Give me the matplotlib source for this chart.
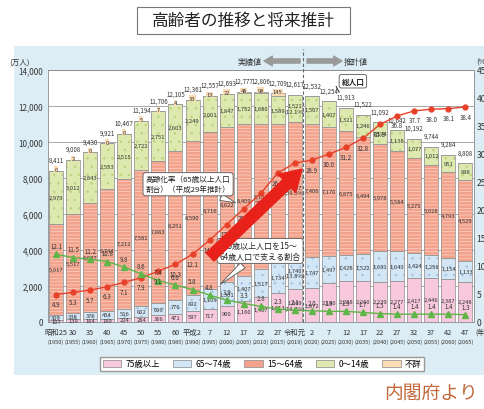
import matplotlib
matplotlib.use("Agg")
import matplotlib.pyplot as plt
from matplotlib.patches import Rectangle, Patch

plt.rcParams["font.family"] = ["Noto Sans CJK JP", "DejaVu Sans"]
plt.rcParams["hatch.linewidth"] = 0.5

years = [1950, 1955, 1960, 1965, 1970, 1975, 1980, 1985, 1990, 1995, 2000, 2005, 2010,
         2015, 2019, 2020, 2025, 2030, 2035, 2040, 2045, 2050, 2055, 2060, 2065]
eras = ["昭和25", "30", "35", "40", "45", "50", "55", "60", "平成2", "7", "12", "17", "22",
        "27", "令和元", "2", "7", "12", "17", "22", "27", "32", "37", "42", "47"]
total = [8411, 9008, 9430, 9921, 10467, 11194, 11706, 12105, 12361, 12557, 12693, 12777, 12806,
         12709, 12617, 12532, 12254, 11913, 11522, 11092, 10642, 10192, 9744, 9284, 8808]
age_0_14 = [2979, 3012, 2843, 2553, 2515, 2722, 2751, 2603, 2249, 2001, 1847, 1752, 1680,
            1589, 1521, 1507, 1407, 1321, 1246, 1194, 1138, 1077, 1012, 951, 898]
age_15_64 = [5017, 5517, 6047, 6744, 7212, 7581, 7883, 8251, 8590, 8716, 8622, 8409, 8103,
             7629, 7507, 7406, 7170, 6875, 6494, 5978, 5584, 5275, 5028, 4793, 4529]
age_65_74 = [309, 338, 376, 434, 516, 602, 699, 776, 892, 1109, 1301, 1407, 1517,
             1734, 1740, 1747, 1497, 1428, 1522, 1681, 1643, 1424, 1258, 1154, 1133]
age_75_over = [107, 139, 164, 189, 224, 284, 366, 471, 597, 717, 900, 1160, 1407,
               1613, 1849, 1872, 2180, 2288, 2260, 2239, 2277, 2417, 2446, 2387, 2248]
unknown = [0, 2, 0, 0, 0, 5, 7, 4, 33, 13, 22, 48, 98, 145] + [None] * 11
aging_rate = [4.9, 5.3, 5.7, 6.3, 7.1, 7.9, 9.1, 10.3, 12.1, 14.6, 17.4, 20.2, 23.0,
              26.6, 28.4, 28.9, 30.0, 31.2, 32.8, 35.3, 36.8, 37.7, 38.0, 38.1, 38.4]
support_ratio = [12.1, 11.5, 11.2, 10.8, 9.8, 8.6, 7.4, 6.6, 5.8, 4.8, 3.9, 3.3, 2.8,
                 2.3, 2.1, 2.0, 1.9, 1.9, 1.7, 1.5, 1.4, 1.4, 1.4, 1.4, 1.3]
shares_2019 = ["(12.1%)", "(59.5%)", "(13.8%)", "(14.7%)"]
legend_labels = ["75歳以上", "65～74歳", "15～64歳", "0～14歳", "不詳"]

W, H = 484, 410
PINK, BLUE, SALMON, GREEN, PEACH = "#f8c9dc", "#d3e6f5", "#f3a28c", "#dde9ae", "#fcdcb5"
EDGE = "#9a9a9a"
RED, LGREEN = "#e8412a", "#5fb548"
BAR_W = 0.82
IDX_2019 = years.index(2019)


def fx(x):
    return x / W


def fy(y):
    return 1 - y / H


fig = plt.figure(figsize=(W / 100, H / 100), dpi=100)

# light blue panel + title box
fig.add_artist(Rectangle((fx(14), fy(376)), fx(484 - 14), (376 - 47) / H,
                         transform=fig.transFigure, facecolor="#dcedf5", edgecolor="none", zorder=0))
fig.add_artist(Rectangle((fx(137), fy(35)), fx(213), 27 / H, transform=fig.transFigure,
                         facecolor="white", edgecolor="#777777", linewidth=0.8, zorder=1))
fig.text(fx(243), fy(21.5), "高齢者の推移と将来推計", ha="center", va="center", fontsize=12, color="#222222")

ax = fig.add_axes([47.5 / W, (H - 323) / H, (474 - 47.5) / W, 252 / H])
ax.set_facecolor("white")
ax.set_axisbelow(True)
ax.grid(axis="y", color="#a8a8a8", linewidth=0.7)
ax.set_xlim(-0.5, len(years) - 0.5)
ax.set_ylim(0, 14000)
ax.set_yticks(range(0, 14001, 2000))
ax.set_yticklabels([f"{v:,}" for v in range(0, 14001, 2000)])
ax.tick_params(axis="y", length=0, pad=3, labelsize=5.8, colors="#333333")
ax.set_xticks([])
for s in ax.spines.values():
    s.set_color("#8a8a8a")
    s.set_linewidth(0.6)

x = list(range(len(years)))
segments = [
    (age_75_over, PINK, None, None),
    (age_65_74, BLUE, "..", "#9fc2e2"),
    (age_15_64, SALMON, "-----", "#fbd3c7"),
    (age_0_14, GREEN, "..", "#b9d27a"),
]
bottom = [0] * len(years)
seg_order = [3, 2, 1, 0]  # index into shares_2019
for k, (vals, face, hatch, hcol) in enumerate(segments):
    ax.bar(x, vals, BAR_W, bottom=bottom, color=face, edgecolor=hcol or face,
           hatch=hatch, linewidth=0, zorder=2)
    ax.bar(x, vals, BAR_W, bottom=bottom, fill=False, edgecolor=EDGE, linewidth=0.6, zorder=3)
    for i, v in enumerate(vals):
        txt = f"{v:,}"
        if i == IDX_2019:
            txt += "\n" + shares_2019[seg_order[k]]
        ax.text(i, bottom[i] + v / 2, txt, ha="center", va="center", fontsize=4.2,
                color="#333333", zorder=5, linespacing=1.0)
    bottom = [b + v for b, v in zip(bottom, vals)]

unk_vals = [u or 0 for u in unknown]
ax.bar(x, unk_vals, BAR_W, bottom=bottom, color=PEACH, edgecolor=EDGE, linewidth=0.6, zorder=3)
for i, u in enumerate(unknown):
    top = bottom[i] + unk_vals[i]
    if u is not None:
        ax.annotate(f"{u:,}", (i, top), xytext=(0, 1), textcoords="offset points",
                    ha="center", va="center", fontsize=4.2, color="#333333", zorder=5,
                    bbox=dict(boxstyle="square,pad=0.05", fc=PEACH, ec="none"))
    ax.annotate(f"{total[i]:,}", (i, top), xytext=(0, 5), textcoords="offset points",
                ha="center", va="bottom", fontsize=4.4, color="#333333", zorder=5)

# boundary between actual and projected
ax.axvline(IDX_2019 + 0.5, ymin=0, ymax=(323 - 50) / 252, color="#666666", linewidth=0.8,
           linestyle=(0, (3, 2)), clip_on=False, zorder=6)

# x labels (two rows)
for i, (era, yr) in enumerate(zip(eras, years)):
    ax.text(i, -10 / 252, era, transform=ax.get_xaxis_transform(), ha="center", va="center",
            fontsize=5.3, color="#333333")
    ax.text(i, -19 / 252, f"({yr})", transform=ax.get_xaxis_transform(), ha="center", va="center",
            fontsize=4.1, color="#333333")

ax2 = ax.twinx()
ax2.set_ylim(0, 45)
ax2.set_yticks(range(0, 46, 5))
ax2.tick_params(axis="y", length=0, pad=2, labelsize=6.2, colors="#333333")
for s in ax2.spines.values():
    s.set_visible(False)

ax2.plot(x, aging_rate, color=RED, linewidth=1.0, marker="o", markersize=3.5, zorder=6)
ax2.plot(x, support_ratio, color=LGREEN, linewidth=1.0, marker="^", markersize=4, zorder=6)
for i in x:
    ax2.annotate(f"{aging_rate[i]:.1f}", (i, aging_rate[i]), xytext=(0, -4), textcoords="offset points",
                 ha="center", va="top", fontsize=4.4, color="#333333", zorder=7)
    ax2.annotate(f"{support_ratio[i]:.1f}", (i, support_ratio[i]), xytext=(0, 3), textcoords="offset points",
                 ha="center", va="bottom", fontsize=4.4, color="#333333", zorder=7)

# callouts
ax2.annotate("高齢化率（65歳以上人口\n割合）（平成29年推計）", xy=(10.67, 21.1), xytext=(7.74, 24.6),
             ha="center", va="center", fontsize=5.5, color="#222222", linespacing=1.3, zorder=8,
             bbox=dict(boxstyle="round,pad=0.35", fc="white", ec="#555555", lw=0.6),
             arrowprops=dict(arrowstyle="wedge,tail_width=0.5", fc="white", ec="#555555", lw=0.6,
                             mutation_scale=10))
ax2.annotate("65歳以上人口を15～\n64歳人口で支える割合", xy=(9.5, 6.4), xytext=(11.96, 12.7),
             ha="center", va="center", fontsize=5.8, color="#222222", linespacing=1.3, zorder=8,
             bbox=dict(boxstyle="round,pad=0.3", fc="white", ec="#555555", lw=0.6),
             arrowprops=dict(arrowstyle="wedge,tail_width=0.5", fc="white", ec="#555555", lw=0.6,
                             mutation_scale=10))
ax2.annotate("総人口", xy=(16.35, 41.3), xytext=(17.4, 43.0), ha="center", va="center",
             fontsize=5.5, fontweight="bold", color="#222222", zorder=8,
             bbox=dict(boxstyle="round,pad=0.3", fc="white", ec="#555555", lw=0.6),
             arrowprops=dict(arrowstyle="wedge,tail_width=0.5", fc="white", ec="#555555", lw=0.6,
                             mutation_scale=10))
ax2.annotate("", xy=(14.42, 27.3), xytext=(9.03, 11.6), zorder=9,
             arrowprops=dict(arrowstyle="simple,head_length=1.5,head_width=1.8,tail_width=0.8",
                             color="#e8211a", shrinkA=0, shrinkB=0))

# actual / projected strip
fig.text(fx(262), fy(62), "実績値", ha="right", va="center", fontsize=5.8, color="#333333")
fig.text(fx(344), fy(62), "推計値", ha="left", va="center", fontsize=5.8, color="#333333")
arrow = dict(arrowstyle="simple,head_length=0.6,head_width=0.7,tail_width=0.3", color="#9a9a9a",
             shrinkA=0, shrinkB=0)
fig.add_artist(plt.Annotation("", xy=(fx(264), fy(62)), xytext=(fx(300), fy(62)),
                              xycoords="figure fraction", arrowprops=arrow))
fig.add_artist(plt.Annotation("", xy=(fx(342), fy(62)), xytext=(fx(307), fy(62)),
                              xycoords="figure fraction", arrowprops=arrow))

fig.text(fx(20), fy(63), "(万人)", ha="center", va="center", fontsize=5.5, color="#333333")
fig.text(fx(476), fy(63), "(%)", ha="left", va="center", fontsize=5.5, color="#333333")
fig.text(fx(475), fy(333), "(年)", ha="left", va="center", fontsize=5, color="#333333")

handles = [Patch(facecolor=c, edgecolor="#888888", linewidth=0.5)
           for c in [PINK, BLUE, SALMON, GREEN, PEACH]]
fig.legend(handles, legend_labels, ncol=5, loc="center", bbox_to_anchor=(fx(262), fy(365)),
           fontsize=6, frameon=True, fancybox=False, edgecolor="#999999", framealpha=1,
           handlelength=2.2, handleheight=0.9, handletextpad=0.5, columnspacing=1.6,
           borderpad=0.35)

fig.text(fx(478), fy(393), "内閣府より", ha="right", va="center", fontsize=13.5, color="#c1693c")

fig.savefig("out.png", dpi=100)
